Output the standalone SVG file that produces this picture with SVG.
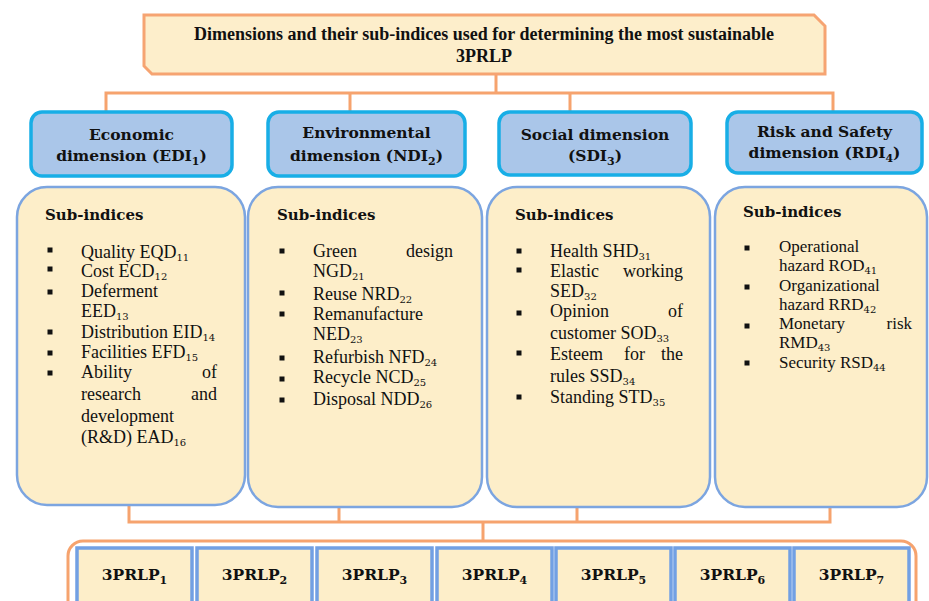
<svg xmlns="http://www.w3.org/2000/svg" width="929" height="601" viewBox="0 0 929 601">
<style>
.ttl{fill:#fdeecb;stroke:#f6a472;stroke-width:3}
.hdr{fill:#aac6e9;stroke:#18aee6;stroke-width:3.5}
.sub{fill:#fdeec9;stroke:#7ca5e0;stroke-width:2.5}
.conn{stroke:#f6a36e;stroke-width:3;fill:none}
.frame{fill:#fff;stroke:#f6a36e;stroke-width:3}
.alt{fill:#fdeec9;stroke:#72a0e3;stroke-width:3.5}
.tt{font-family:"Liberation Serif",serif;font-weight:bold;font-size:18px;fill:#111;text-anchor:middle}
.h{font-family:"DejaVu Serif",serif;font-weight:bold;font-size:15.5px;fill:#111;text-anchor:middle}
.si{font-family:"DejaVu Serif",serif;font-weight:bold;font-size:15px;fill:#111}
.b{font-family:"Liberation Serif",serif;font-size:18px;fill:#111}
.b4{font-family:"Liberation Serif",serif;font-size:17px;fill:#111}
.r{text-anchor:end}
.s{font-family:"DejaVu Serif",serif;font-size:10px}
.hs{font-size:11px}
.blt{fill:#111}
</style>

<g id="connectors">
<path class="conn" d="M496,74 V93 M106,93 H833 M106,91.5 V112 M350,93 V112 M570,93 V112 M833,91.5 V112"/>
<path class="conn" d="M129,506 V522 M339,507 V522 M577,507 V522 M830,507 V522 M127.5,522 H831.5 M483,522 V541"/>
</g>

<g id="title">
<path class="ttl" d="M144,15 H814 L825,26 V74 H152 L144,66 Z"/>
<text class="tt" x="484" y="40">Dimensions and their sub-indices used for determining the most sustainable</text>
<text class="tt" x="484" y="62">3PRLP</text>
</g>

<g id="hdr-economic">
<rect class="hdr" x="31" y="112" width="201" height="64" rx="11"/>
<text class="h" x="131.5" y="140">Economic</text>
<text class="h" x="131.5" y="161">dimension (EDI<tspan class="hs" dy="4">1</tspan><tspan dy="-4">)</tspan></text>
</g>
<g id="hdr-environmental">
<rect class="hdr" x="268" y="112" width="197" height="64" rx="11"/>
<text class="h" x="366.5" y="138">Environmental</text>
<text class="h" x="366.5" y="161">dimension (NDI<tspan class="hs" dy="4">2</tspan><tspan dy="-4">)</tspan></text>
</g>
<g id="hdr-social">
<rect class="hdr" x="499" y="112" width="192" height="63" rx="11"/>
<text class="h" x="595" y="140">Social dimension</text>
<text class="h" x="595" y="161">(SDI<tspan class="hs" dy="4">3</tspan><tspan dy="-4">)</tspan></text>
</g>
<g id="hdr-risk">
<rect class="hdr" x="727" y="112" width="195" height="61" rx="11"/>
<text class="h" x="824.5" y="137">Risk and Safety</text>
<text class="h" x="824.5" y="158">dimension (RDI<tspan class="hs" dy="4">4</tspan><tspan dy="-4">)</tspan></text>
</g>

<g id="sub-economic">
<rect class="sub" x="17" y="187" width="228" height="318" rx="30"/>
<text class="si" x="45" y="220">Sub-indices</text>
<rect class="blt" x="47.5" y="247.5" width="5" height="5"/>
<rect class="blt" x="47.5" y="266.5" width="5" height="5"/>
<rect class="blt" x="47.5" y="289.5" width="5" height="5"/>
<rect class="blt" x="47.5" y="329.5" width="5" height="5"/>
<rect class="blt" x="47.5" y="350.5" width="5" height="5"/>
<rect class="blt" x="47.5" y="370.5" width="5" height="5"/>
<text class="b" x="81" y="258">Quality EQD<tspan class="s" dy="3">11</tspan></text>
<text class="b" x="81" y="277">Cost ECD<tspan class="s" dy="3">12</tspan></text>
<text class="b" x="81" y="297">Deferment</text>
<text class="b" x="81" y="317">EED<tspan class="s" dy="3">13</tspan></text>
<text class="b" x="81" y="338">Distribution EID<tspan class="s" dy="3">14</tspan></text>
<text class="b" x="81" y="358">Facilities EFD<tspan class="s" dy="3">15</tspan></text>
<text class="b" x="81" y="378">Ability</text>
<text class="b r" x="217" y="378">of</text>
<text class="b" x="81" y="400">research</text>
<text class="b r" x="217" y="400">and</text>
<text class="b" x="81" y="422">development</text>
<text class="b" x="81" y="443">(R&amp;D) EAD<tspan class="s" dy="3">16</tspan></text>
</g>

<g id="sub-environmental">
<rect class="sub" x="248" y="187" width="234" height="320" rx="30"/>
<text class="si" x="277" y="220">Sub-indices</text>
<rect class="blt" x="279.5" y="248.5" width="5" height="5"/>
<rect class="blt" x="279.5" y="290.5" width="5" height="5"/>
<rect class="blt" x="279.5" y="311.5" width="5" height="5"/>
<rect class="blt" x="279.5" y="355.5" width="5" height="5"/>
<rect class="blt" x="279.5" y="376.5" width="5" height="5"/>
<rect class="blt" x="279.5" y="397.5" width="5" height="5"/>
<text class="b" x="313" y="257">Green</text>
<text class="b r" x="453" y="257">design</text>
<text class="b" x="313" y="277">NGD<tspan class="s" dy="3">21</tspan></text>
<text class="b" x="313" y="300">Reuse NRD<tspan class="s" dy="3">22</tspan></text>
<text class="b" x="313" y="320">Remanufacture</text>
<text class="b" x="313" y="340">NED<tspan class="s" dy="3">23</tspan></text>
<text class="b" x="313" y="363">Refurbish NFD<tspan class="s" dy="3">24</tspan></text>
<text class="b" x="313" y="383">Recycle NCD<tspan class="s" dy="3">25</tspan></text>
<text class="b" x="313" y="405">Disposal NDD<tspan class="s" dy="3">26</tspan></text>
</g>

<g id="sub-social">
<rect class="sub" x="487" y="187" width="223" height="320" rx="30"/>
<text class="si" x="515" y="220">Sub-indices</text>
<rect class="blt" x="516.5" y="248.5" width="5" height="5"/>
<rect class="blt" x="516.5" y="267.5" width="5" height="5"/>
<rect class="blt" x="516.5" y="310.5" width="5" height="5"/>
<rect class="blt" x="516.5" y="350.5" width="5" height="5"/>
<rect class="blt" x="516.5" y="394.5" width="5" height="5"/>
<text class="b" x="550" y="257">Health SHD<tspan class="s" dy="3">31</tspan></text>
<text class="b" x="550" y="277">Elastic</text>
<text class="b r" x="683" y="277">working</text>
<text class="b" x="550" y="297">SED<tspan class="s" dy="3">32</tspan></text>
<text class="b" x="550" y="317">Opinion</text>
<text class="b r" x="683" y="317">of</text>
<text class="b" x="550" y="339">customer SOD<tspan class="s" dy="3">33</tspan></text>
<text class="b" x="550" y="360">Esteem</text>
<text class="b" x="624" y="360">for</text>
<text class="b r" x="683" y="360">the</text>
<text class="b" x="550" y="382">rules SSD<tspan class="s" dy="3">34</tspan></text>
<text class="b" x="550" y="403">Standing STD<tspan class="s" dy="3">35</tspan></text>
</g>

<g id="sub-risk">
<rect class="sub" x="715" y="187" width="212" height="320" rx="30"/>
<text class="si" x="743" y="217">Sub-indices</text>
<rect class="blt" x="744.5" y="245.5" width="5" height="5"/>
<rect class="blt" x="744.5" y="284.5" width="5" height="5"/>
<rect class="blt" x="744.5" y="323.5" width="5" height="5"/>
<rect class="blt" x="744.5" y="360.5" width="5" height="5"/>
<text class="b4" x="779" y="252">Operational</text>
<text class="b4" x="779" y="271">hazard ROD<tspan class="s" dy="3">41</tspan></text>
<text class="b4" x="779" y="291">Organizational</text>
<text class="b4" x="779" y="310">hazard RRD<tspan class="s" dy="3">42</tspan></text>
<text class="b4" x="779" y="329">Monetary</text>
<text class="b4 r" x="912" y="329">risk</text>
<text class="b4" x="779" y="348">RMD<tspan class="s" dy="3">43</tspan></text>
<text class="b4" x="779" y="368">Security RSD<tspan class="s" dy="3">44</tspan></text>
</g>

<g id="alternatives-frame">
<rect class="frame" x="68" y="541" width="848" height="100" rx="15"/>
</g>
<g id="alt1"><rect class="alt" x="77" y="548" width="115" height="60"/><text class="h" x="134.5" y="580">3PRLP<tspan class="hs" dy="4">1</tspan></text></g>
<g id="alt2"><rect class="alt" x="197" y="548" width="115" height="60"/><text class="h" x="254.5" y="580">3PRLP<tspan class="hs" dy="4">2</tspan></text></g>
<g id="alt3"><rect class="alt" x="317" y="548" width="115" height="60"/><text class="h" x="374.5" y="580">3PRLP<tspan class="hs" dy="4">3</tspan></text></g>
<g id="alt4"><rect class="alt" x="437" y="548" width="115" height="60"/><text class="h" x="494.5" y="580">3PRLP<tspan class="hs" dy="4">4</tspan></text></g>
<g id="alt5"><rect class="alt" x="556" y="548" width="115" height="60"/><text class="h" x="613.5" y="580">3PRLP<tspan class="hs" dy="4">5</tspan></text></g>
<g id="alt6"><rect class="alt" x="675" y="548" width="115" height="60"/><text class="h" x="732.5" y="580">3PRLP<tspan class="hs" dy="4">6</tspan></text></g>
<g id="alt7"><rect class="alt" x="794" y="548" width="115" height="60"/><text class="h" x="851.5" y="580">3PRLP<tspan class="hs" dy="4">7</tspan></text></g>
</svg>
